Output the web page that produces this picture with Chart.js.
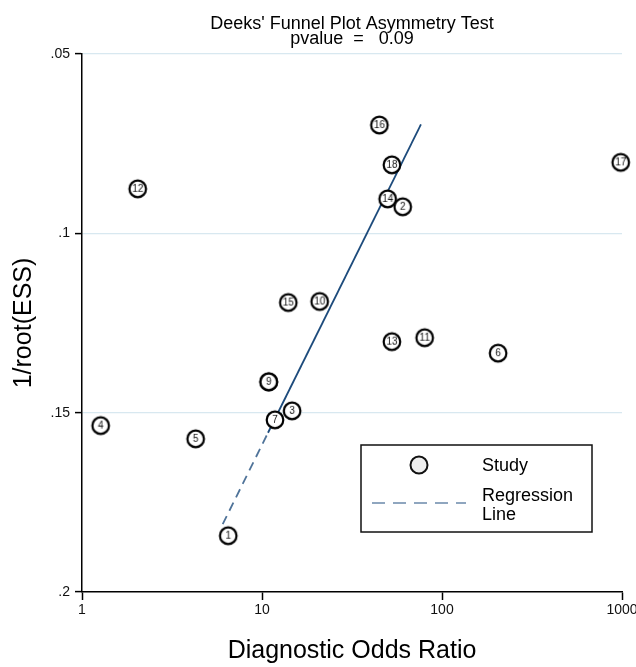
<!DOCTYPE html>
<html lang="en">
<head>
  <meta charset="UTF-8">
  <title>Deeks' Funnel Plot Asymmetry Test</title>
  <style>
    body { margin: 0; background: #fff; }
    canvas { display: block; }
  </style>
</head>
<body>

<canvas id="deeksChart" width="636" height="667"></canvas>

<script src="https://cdn.jsdelivr.net/npm/chart.js"></script>
<script>
  // study data
  const studyLabels = ['1', '3', '4', '5', '6', '7', '8', '9', '10', '11', '12', '13', '14', '15', '16', '17', '18', '2'];
  const studyDOR = [6.49, 14.7, 1.27, 4.28, 205, 11.8, 10.9, 10.9, 20.9, 80.1, 2.04, 52.7, 49.9, 14.0, 44.9, 984, 52.7, 60.5];
  const studyInvRootESS = [0.1843, 0.1495, 0.1536, 0.1573, 0.1334, 0.1520, 0.1414, 0.1414, 0.1190, 0.1291, 0.0876, 0.1302, 0.0904, 0.1193, 0.0698, 0.0802, 0.0809, 0.0926];

  // regression line: dashed lower part, solid upper part
  const regDashedDOR = [6.05, 10.8];
  const regDashedY = [0.1811, 0.1556];
  const regSolidDOR = [10.8, 76.4];
  const regSolidY = [0.1556, 0.0696];

  const xTicks = [1, 10, 100, 1000];
  const xTickLabels = ['1', '10', '100', '1000'];
  const yTicks = [0.05, 0.1, 0.15, 0.2];
  const yTickLabels = ['.05', '.1', '.15', '.2'];

  const titleLines = ["Deeks' Funnel Plot Asymmetry Test", 'pvalue  =   0.09'];

  const FAMILY = '"Liberation Sans", Arial, sans-serif';

  // circle marker with the study number inside
  function makeMarker(text) {
    const c = document.createElement('canvas');
    c.width = 22;
    c.height = 22;
    const g = c.getContext('2d');
    g.beginPath();
    g.arc(11, 11, 8.3, 0, Math.PI * 2);
    g.fillStyle = '#fff';
    g.fill();
    g.lineWidth = 2.2;
    g.strokeStyle = '#000';
    g.stroke();
    g.font = '10px ' + FAMILY;
    g.textAlign = 'center';
    g.textBaseline = 'middle';
    g.fillStyle = '#111';
    g.fillText(text, 11, 11.5);
    return c;
  }

  const toPoints = (xs, ys) => xs.map((x, i) => ({ x: x, y: ys[i] }));

  const titlePlugin = {
    id: 'stataTitle',
    afterDraw(chart) {
      const ctx = chart.ctx;
      const area = chart.chartArea;
      const cx = (area.left + area.right) / 2;
      ctx.save();
      ctx.font = '18px ' + FAMILY;
      ctx.fillStyle = '#000';
      ctx.textAlign = 'center';
      ctx.textBaseline = 'alphabetic';
      ctx.fillText(titleLines[0], cx, 29);
      ctx.fillText(titleLines[1], cx, 44);
      ctx.restore();
    }
  };

  const legendPlugin = {
    id: 'boxLegend',
    afterDraw(chart) {
      const ctx = chart.ctx;
      ctx.save();
      ctx.fillStyle = '#fff';
      ctx.fillRect(361, 445, 231, 87);
      ctx.lineWidth = 1.5;
      ctx.strokeStyle = '#111';
      ctx.strokeRect(361, 445, 231, 87);

      ctx.beginPath();
      ctx.arc(419, 465, 8.5, 0, Math.PI * 2);
      ctx.fillStyle = '#eeeeee';
      ctx.fill();
      ctx.lineWidth = 2;
      ctx.strokeStyle = '#111';
      ctx.stroke();

      ctx.beginPath();
      ctx.setLineDash([13, 8]);
      ctx.lineWidth = 2;
      ctx.strokeStyle = '#8fa6bf';
      ctx.moveTo(372, 503);
      ctx.lineTo(466, 503);
      ctx.stroke();
      ctx.setLineDash([]);

      ctx.font = '18px ' + FAMILY;
      ctx.fillStyle = '#000';
      ctx.textAlign = 'left';
      ctx.textBaseline = 'middle';
      ctx.fillText('Study', 482, 466);
      ctx.fillText('Regression', 482, 496);
      ctx.fillText('Line', 482, 515);
      ctx.restore();
    }
  };

  const ctx = document.getElementById('deeksChart').getContext('2d');
  const deeksChart = new Chart(ctx, {
    type: 'scatter',
    data: {
      datasets: [
        {
          label: 'Study',
          data: toPoints(studyDOR, studyInvRootESS),
          pointStyle: studyLabels.map(makeMarker),
          pointRadius: 9,
          clip: false,
          order: 0
        },
        {
          label: 'Regression Line',
          data: toPoints(regDashedDOR, regDashedY),
          showLine: true,
          borderColor: '#4f7399',
          borderWidth: 1.8,
          borderDash: [9, 6],
          pointRadius: 0,
          order: 1
        },
        {
          label: 'Regression Line (fit)',
          data: toPoints(regSolidDOR, regSolidY),
          showLine: true,
          borderColor: '#1d4b7c',
          borderWidth: 1.8,
          pointRadius: 0,
          order: 1
        }
      ]
    },
    options: {
      responsive: false,
      animation: false,
      layout: { padding: { top: 54, right: 14, left: 0, bottom: 0 } },
      plugins: {
        legend: { display: false },
        tooltip: { enabled: false }
      },
      scales: {
        x: {
          type: 'logarithmic',
          min: 1,
          max: 1000,
          afterBuildTicks: scale => { scale.ticks = xTicks.map(v => ({ value: v })); },
          afterFit: scale => {
            scale.height = 75;
            scale.paddingRight = 14;
          },
          ticks: {
            callback: (v, i) => xTickLabels[i],
            font: { size: 14, family: FAMILY },
            color: '#111',
            padding: 2,
            maxRotation: 0,
            autoSkip: false
          },
          grid: {
            drawOnChartArea: false,
            drawTicks: true,
            tickLength: 8,
            tickColor: '#000',
            tickWidth: 1.5
          },
          border: { color: '#000', width: 1.5 },
          title: {
            display: true,
            text: 'Diagnostic Odds Ratio',
            font: { size: 25, family: FAMILY },
            color: '#000',
            padding: { top: 0, bottom: 1 }
          }
        },
        y: {
          type: 'linear',
          reverse: true,
          min: 0.05,
          max: 0.2,
          afterBuildTicks: scale => { scale.ticks = yTicks.map(v => ({ value: v })); },
          afterFit: scale => { scale.width = 82; },
          ticks: {
            callback: (v, i) => yTickLabels[i],
            font: { size: 14, family: FAMILY },
            color: '#111',
            padding: 5
          },
          grid: {
            color: c => (c.tick && c.tick.value >= 0.2) ? 'rgba(0,0,0,0)' : '#d8e8f0',
            lineWidth: 1.2,
            drawTicks: true,
            tickLength: 7,
            tickColor: '#000',
            tickWidth: 1.5
          },
          border: { color: '#000', width: 1.5 },
          title: {
            display: true,
            text: '1/root(ESS)',
            font: { size: 25, family: FAMILY },
            color: '#000',
            padding: { top: 9, bottom: 0 }
          }
        }
      }
    },
    plugins: [titlePlugin, legendPlugin]
  });
</script>

</body>
</html>
